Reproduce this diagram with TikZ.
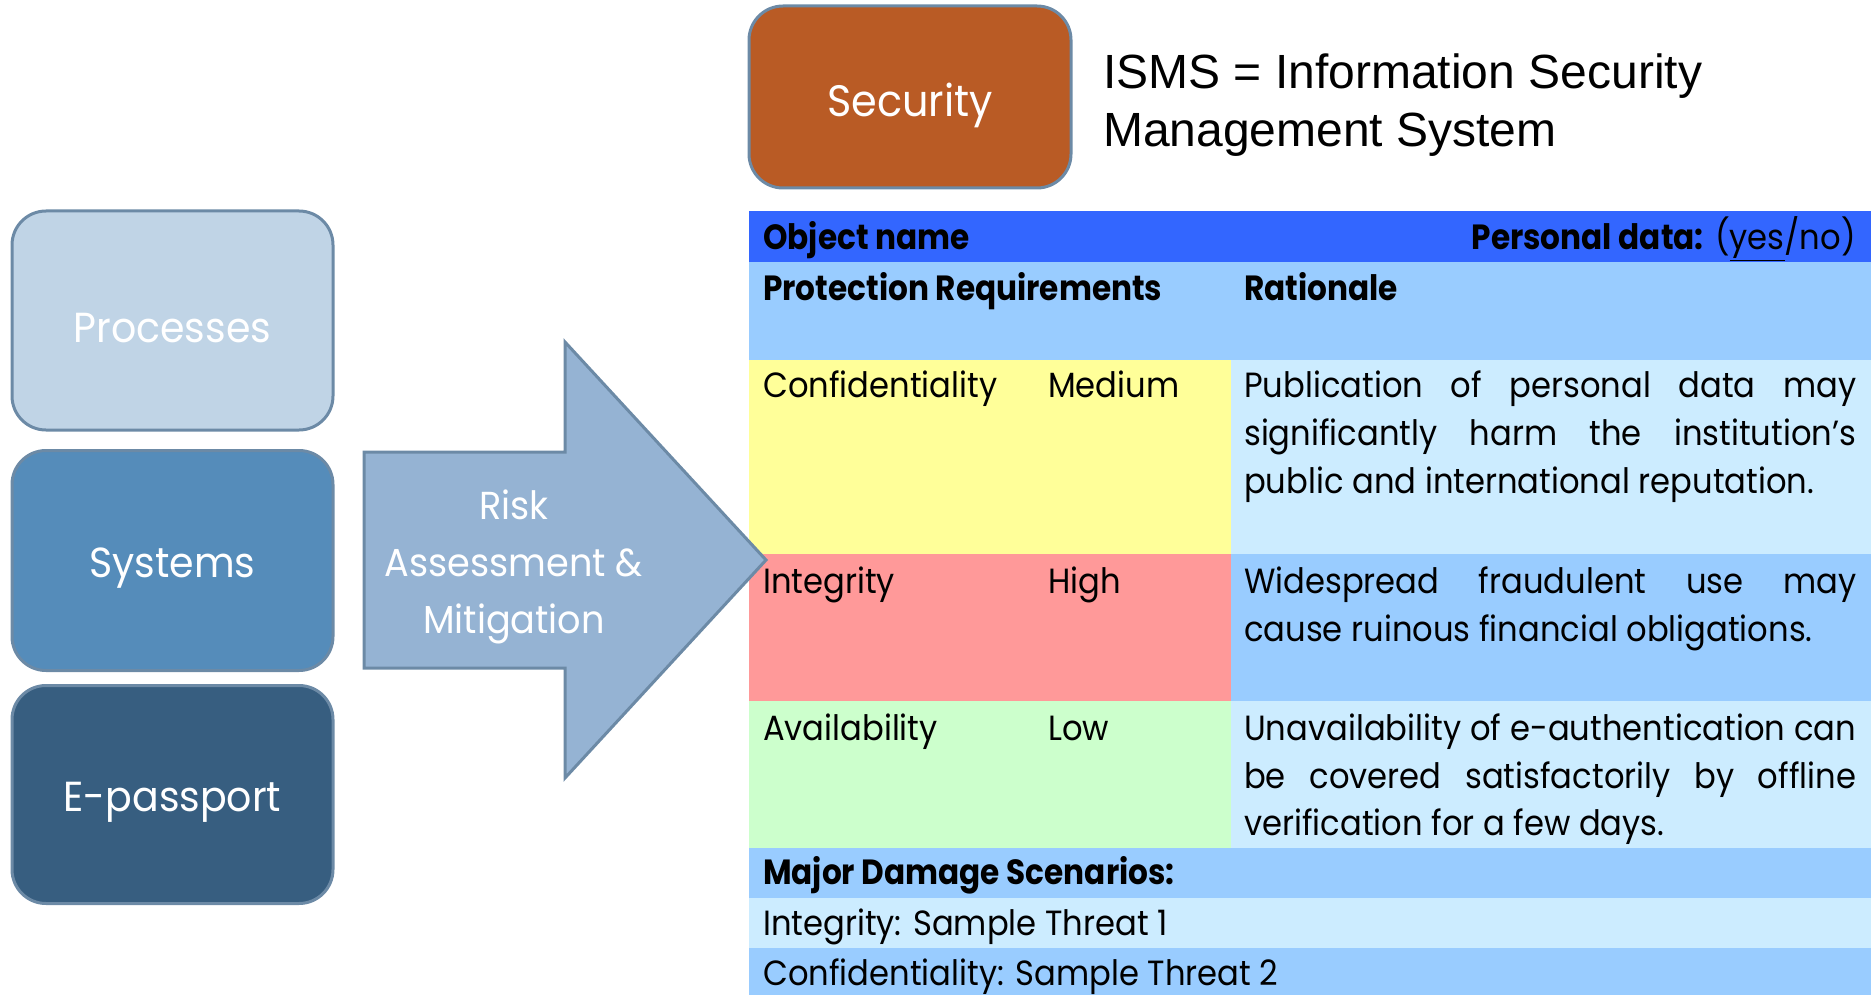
\documentclass[tikz,border=0pt]{standalone}
\usepackage{fontspec}
\setmainfont{Poppins}
\newfontfamily\tabfont[FakeStretch=0.92]{Poppins}
\newfontfamily\tabbold[FakeStretch=0.89]{Poppins Bold}
\newfontfamily\boxfont[FakeStretch=0.94]{Poppins}
\newfontfamily\ismsfont{Liberation Sans}
\definecolor{hdrblue}{HTML}{3366FF}
\definecolor{ltblue}{HTML}{99CCFF}
\definecolor{paleblue}{HTML}{CCECFF}
\definecolor{yel}{HTML}{FFFF99}
\definecolor{pink}{HTML}{FF9999}
\definecolor{grn}{HTML}{CCFFCC}
\definecolor{procc}{HTML}{C0D4E6}
\definecolor{sysc}{HTML}{558CBA}
\definecolor{epc}{HTML}{375E80}
\definecolor{arrc}{HTML}{95B3D3}
\definecolor{secc}{HTML}{B95B25}
\definecolor{bordc}{HTML}{6C8AA6}
\tikzset{
  blk/.style={rounded corners=34pt, draw=bordc, line width=3pt, text=white,
    font=\boxfont\fontsize{42}{50}\selectfont, inner sep=0pt},
  tx/.style={inner sep=0pt, anchor=base west, font=\tabfont\fontsize{35}{48}\selectfont},
  txb/.style={inner sep=0pt, anchor=base west, font=\tabbold\fontsize{35}{48}\selectfont},
}
\newcommand{\jline}[1]{\makebox[612pt][s]{#1}}
\newcommand{\lowered}[1]{\raisebox{-8pt}[\height][\depth]{#1}}
\begin{document}
\begin{tikzpicture}[x=1pt,y=-1pt]
\useasboundingbox (0,0) rectangle (1871,995);
% left boxes
\node[blk, fill=procc, minimum width=321pt, minimum height=219pt] (proc) at (172.5,320.5) {\lowered{Processes}};
\node[blk, fill=sysc, minimum width=321pt, minimum height=220pt] (sys) at (172.5,560.5) {\lowered{Systems}};
\node[blk, fill=epc, minimum width=321pt, minimum height=218pt] (ep) at (172.5,794.5) {\lowered{E-passport}};
% security
\node[blk, fill=secc, minimum width=322pt, minimum height=182pt, font=\boxfont\fontsize{44}{50}\selectfont] (sec) at (910,97) {\lowered{Security}};
\node[inner sep=0pt, anchor=base west, align=left, font=\ismsfont\fontsize{48}{58}\selectfont] (isms) at (1103,147) {ISMS = Information Security\\Management System};
% table backgrounds
\fill[hdrblue] (749,211) rectangle (1871,262);
\fill[ltblue] (749,262) rectangle (1871,360);
\fill[yel] (749,360) rectangle (1231,554);
\fill[paleblue] (1231,360) rectangle (1871,554);
\fill[pink] (749,554) rectangle (1231,701);
\fill[ltblue] (1231,554) rectangle (1871,701);
\fill[grn] (749,701) rectangle (1231,848);
\fill[paleblue] (1231,701) rectangle (1871,848);
\fill[ltblue] (749,848) rectangle (1871,898);
\fill[paleblue] (749,898) rectangle (1871,948);
\fill[ltblue] (749,948) rectangle (1871,995);
% table texts
\node[txb] (objname) at (763,250) {Object name};
\node[tx, anchor=base east] (pdata) at (1856,250) {{\tabbold Personal data:} (\underline{yes}/no)};
\node[txb] (protreq) at (763,300) {Protection Requirements};
\node[txb] (ratio) at (1244,300) {Rationale};
\node[tx] (conf) at (763,397) {Confidentiality};
\node[tx] (med) at (1048,397) {Medium};
\node[tx] (r1a) at (1244,397) {\jline{Publication of personal data may}};
\node[tx] (r1b) at (1244,445) {\jline{significantly harm the institution’s}};
\node[tx] (r1c) at (1244,493) {public and international reputation.};
\node[tx] (integ) at (763,593) {Integrity};
\node[tx] (high) at (1048,593) {High};
\node[tx] (r2a) at (1244,593) {\jline{Widespread fraudulent use may}};
\node[tx] (r2b) at (1244,641) {cause ruinous financial obligations.};
\node[tx] (avail) at (763,740) {Availability};
\node[tx] (low) at (1048,740) {Low};
\node[tx] (r3a) at (1244,740) {\jline{Unavailability of e-authentication can}};
\node[tx] (r3b) at (1244,788) {\jline{be covered satisfactorily by offline}};
\node[tx] (r3c) at (1244,835) {verification for a few days.};
\node[txb] (major) at (763,884) {Major Damage Scenarios:};
\node[tx] (thr1) at (763,935) {Integrity: Sample Threat 1};
\node[tx] (thr2) at (763,985) {Confidentiality: Sample Threat 2};
% arrow
\draw[draw=bordc, line width=3pt, fill=arrc, line join=miter]
  (364,452) -- (565,452) -- (565,342) -- (766,560) -- (565,778) -- (565,668) -- (364,668) -- cycle;
\node[inner sep=0pt, align=center, text=white, font=\boxfont\fontsize{39}{57}\selectfont] (risk) at (514,567) {Risk\\Assessment \&\\Mitigation};
\end{tikzpicture}
\end{document}
